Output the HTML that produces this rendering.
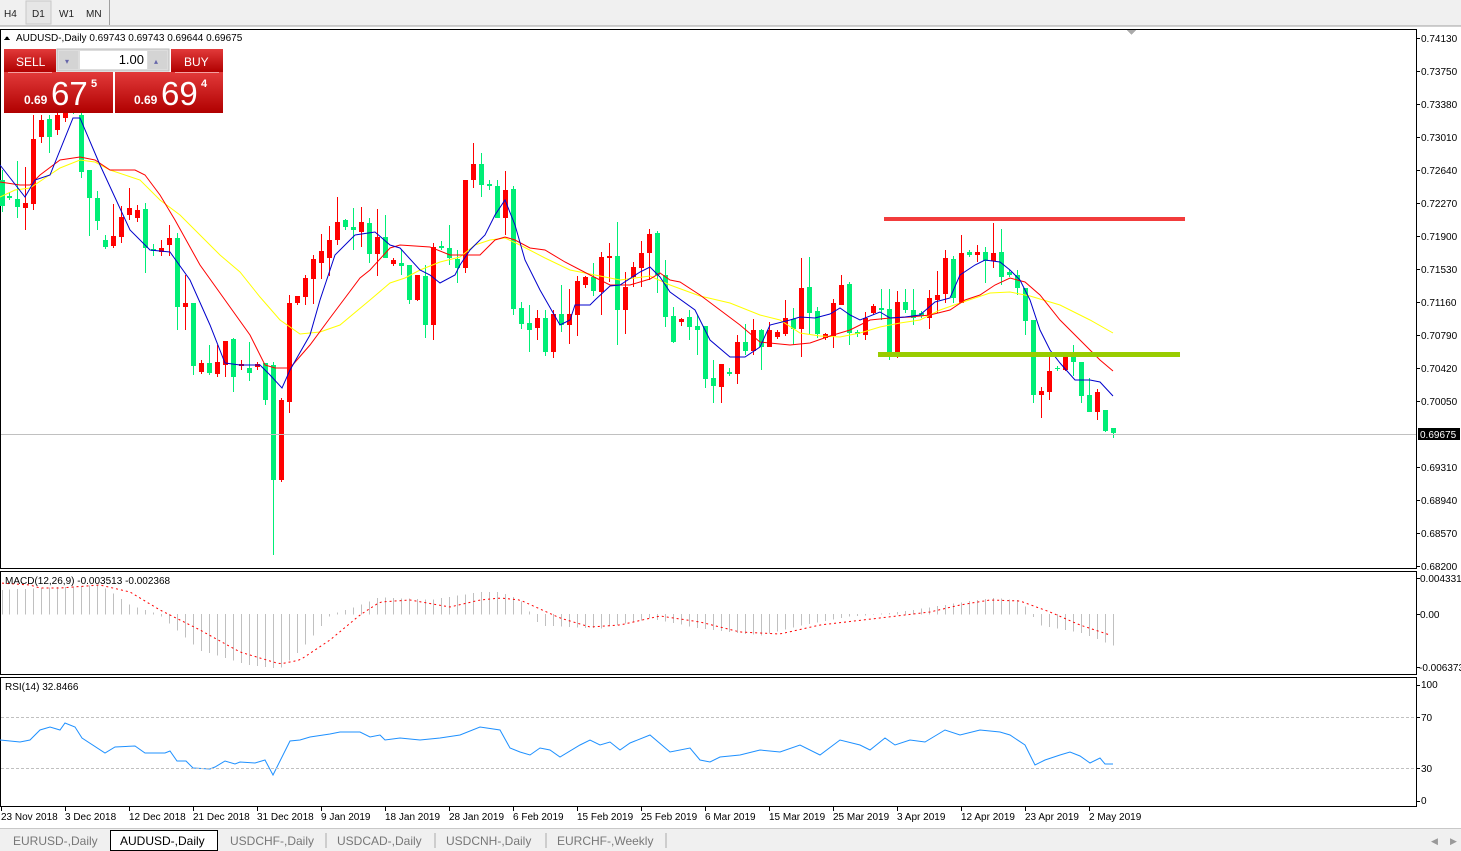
<!DOCTYPE html>
<html><head><meta charset="utf-8">
<style>
html,body{margin:0;padding:0;width:1461px;height:851px;overflow:hidden;background:#fff;font-family:"Liberation Sans",sans-serif;}
svg text{font-family:"Liberation Sans",sans-serif;}
</style></head><body>
<svg id="s" width="1461" height="851" xmlns="http://www.w3.org/2000/svg" shape-rendering="crispEdges">
<rect x="0" y="0" width="1461" height="26" fill="#f0f0f0"/>
<line x1="0" y1="26" x2="1461" y2="26" stroke="#a0a0a0"/>
<rect x="26" y="1" width="25" height="23" fill="#e6e6e6" stroke="#c8c8c8"/>
<text x="4" y="17" font-size="10" fill="#222">H4</text>
<text x="32" y="17" font-size="10" fill="#222">D1</text>
<text x="59" y="17" font-size="10" fill="#222">W1</text>
<text x="86" y="17" font-size="10" fill="#222">MN</text>
<line x1="109.5" y1="0" x2="109.5" y2="25" stroke="#a0a0a0"/>
<!-- panes -->
<rect x="0.5" y="29.5" width="1416" height="539" fill="#fff" stroke="#000"/>
<rect x="0.5" y="571.5" width="1416" height="103" fill="#fff" stroke="#000"/>
<rect x="0.5" y="677.5" width="1416" height="129" fill="#fff" stroke="#000"/>
<polygon points="1127,30 1136,30 1131.5,35" fill="#aaa"/>
<g id="main"></g>
<line x1="1" y1="434.5" x2="1416" y2="434.5" stroke="#c0c0c0"/>
<rect x="884" y="217" width="301" height="4" fill="#f23c3c"/>
<rect x="878" y="352" width="302" height="5" fill="#99cc00"/>
<g id="macd"></g>
<g id="rsi"></g>
<!-- right axis -->
<g font-size="10" fill="#000" id="ax">
<text x="1421" y="42">0.74130</text><text x="1421" y="75">0.73750</text><text x="1421" y="108">0.73380</text>
<text x="1421" y="141">0.73010</text><text x="1421" y="174">0.72640</text><text x="1421" y="207">0.72270</text>
<text x="1421" y="240">0.71900</text><text x="1421" y="273">0.71530</text><text x="1421" y="306">0.71160</text>
<text x="1421" y="339">0.70790</text><text x="1421" y="372">0.70420</text><text x="1421" y="405">0.70050</text>
<text x="1421" y="471">0.69310</text><text x="1421" y="504">0.68940</text><text x="1421" y="537">0.68570</text>
<text x="1421" y="570">0.68200</text>
<text x="1420" y="582">0.004331</text><text x="1420" y="618">0.00</text><text x="1419" y="671">-0.006373</text>
<text x="1421" y="688">100</text><text x="1421" y="721">70</text><text x="1421" y="772">30</text><text x="1421" y="804">0</text>
</g>
<rect x="1418" y="428" width="42" height="12" fill="#000"/>
<text x="1420" y="438" font-size="10" fill="#fff">0.69675</text>
<!-- RSI levels -->
<line x1="1" y1="717.5" x2="1416" y2="717.5" stroke="#c0c0c0" stroke-dasharray="3,2"/>
<line x1="1" y1="768.5" x2="1416" y2="768.5" stroke="#c0c0c0" stroke-dasharray="3,2"/>
<text x="5" y="584" font-size="10">MACD(12,26,9) -0.003513 -0.002368</text>
<text x="5" y="690" font-size="10">RSI(14) 32.8466</text>
<!-- date axis -->
<g font-size="10" fill="#000">
<text x="1" y="820">23 Nov 2018</text><text x="65" y="820">3 Dec 2018</text><text x="129" y="820">12 Dec 2018</text>
<text x="193" y="820">21 Dec 2018</text><text x="257" y="820">31 Dec 2018</text><text x="321" y="820">9 Jan 2019</text>
<text x="385" y="820">18 Jan 2019</text><text x="449" y="820">28 Jan 2019</text><text x="513" y="820">6 Feb 2019</text>
<text x="577" y="820">15 Feb 2019</text><text x="641" y="820">25 Feb 2019</text><text x="705" y="820">6 Mar 2019</text>
<text x="769" y="820">15 Mar 2019</text><text x="833" y="820">25 Mar 2019</text><text x="897" y="820">3 Apr 2019</text>
<text x="961" y="820">12 Apr 2019</text><text x="1025" y="820">23 Apr 2019</text><text x="1089" y="820">2 May 2019</text>
</g>
<g id="ticks"></g>
<!-- tabs -->
<rect x="0" y="828" width="1461" height="23" fill="#f0f0f0"/>
<line x1="0" y1="828.5" x2="1461" y2="828.5" stroke="#c8c8c8"/>
<rect x="110.5" y="830.5" width="107" height="20" fill="#fff" stroke="#000"/>
<g font-size="12" fill="#777">
<text x="13" y="845">EURUSD-,Daily</text>
<text x="120" y="845" fill="#000">AUDUSD-,Daily</text>
<text x="230" y="845">USDCHF-,Daily</text>
<text x="337" y="845">USDCAD-,Daily</text>
<text x="446" y="845">USDCNH-,Daily</text>
<text x="557" y="845">EURCHF-,Weekly</text>
</g>
<g stroke="#aaa"><line x1="326" y1="833" x2="326" y2="848"/><line x1="435" y1="833" x2="435" y2="848"/><line x1="546" y1="833" x2="546" y2="848"/><line x1="666" y1="833" x2="666" y2="848"/></g>
<text x="1431" y="844" font-size="9" fill="#999">◀</text><text x="1450" y="844" font-size="9" fill="#999">▶</text>
<!-- header -->
<polygon points="4,40 10,40 7,36" fill="#000"/>
<text x="16" y="41" font-size="10">AUDUSD-,Daily  0.69743 0.69743 0.69644 0.69675</text>
<!-- trade panel -->
<defs><linearGradient id="rg" x1="0" y1="0" x2="0" y2="1"><stop offset="0" stop-color="#e23a3a"/><stop offset="1" stop-color="#b00000"/></linearGradient></defs>
<rect x="4" y="49" width="52" height="23" fill="url(#rg)"/>
<rect x="171" y="49" width="52" height="23" fill="url(#rg)"/>
<rect x="4" y="72" width="109" height="41" fill="url(#rg)"/>
<rect x="115" y="72" width="108" height="41" fill="url(#rg)"/>
<line x1="8" y1="72.5" x2="52" y2="72.5" stroke="#f4a0a0"/><line x1="175" y1="72.5" x2="219" y2="72.5" stroke="#f4a0a0"/>
<rect x="57" y="49" width="112" height="22" fill="#ddd" stroke="#bbb"/>
<rect x="59" y="51" width="19" height="18" fill="#d4d4d4"/><rect x="148" y="51" width="19" height="18" fill="#d4d4d4"/>
<rect x="80" y="51" width="67" height="18" fill="#fff"/>
<text x="65" y="64" font-size="8" fill="#66a">▾</text><text x="154" y="64" font-size="8" fill="#66a">▴</text>
<text x="144" y="64" font-size="13" text-anchor="end">1.00</text>
<text x="16" y="66" font-size="12" fill="#fff">SELL</text>
<text x="184" y="66" font-size="12" fill="#fff">BUY</text>
<text x="24" y="104" font-size="12" font-weight="bold" fill="#fff">0.69</text>
<text x="51" y="105" font-size="33" fill="#fff">67</text>
<text x="91" y="87" font-size="11" font-weight="bold" fill="#fff">5</text>
<text x="134" y="104" font-size="12" font-weight="bold" fill="#fff">0.69</text>
<text x="161" y="105" font-size="33" fill="#fff">69</text>
<text x="201" y="87" font-size="11" font-weight="bold" fill="#fff">4</text>
</svg>
<script>
var NS="http://www.w3.org/2000/svg";
function el(p,t,a){var e=document.createElementNS(NS,t);for(var k in a)e.setAttribute(k,a[k]);p.appendChild(e);return e;}
var C=[[2,'g',180,206,170,212],[9,'g',196,198,192,200],[17,'g',199,207,161,218],[25,'r',203,208,167,230],[33,'r',139,204,115,210],[41,'r',120,137,115,143],[49,'g',119,137,115,153],[57,'r',115,130,108,135],[65,'r',105,118,100,122],[73,'g',100,110,95,114],[81,'g',115,172,113,178],[89,'g',170,198,170,236],[97,'g',198,221,191,230],[105,'g',240,247,235,249],[113,'r',236,246,204,248],[121,'r',217,237,206,243],[129,'r',208,215,188,220],[137,'r',210,218,205,222],[145,'g',209,248,203,273],[153,'g',249,251,244,256],[161,'r',248,252,240,256],[169,'r',238,245,225,256],[177,'g',238,307,233,330],[185,'r',303,307,275,330],[193,'g',303,366,303,375],[201,'r',363,372,360,374],[209,'g',363,373,345,375],[217,'r',362,374,345,377],[225,'r',341,365,341,377],[233,'g',339,377,338,392],[241,'r',364,366,360,370],[249,'g',368,373,342,381],[257,'r',364,367,362,370],[265,'g',363,400,363,405],[273,'g',365,480,362,555],[281,'r',400,480,398,482],[289,'r',303,402,295,413],[297,'r',296,303,296,305],[305,'r',278,297,275,305],[313,'r',259,279,255,304],[321,'r',251,263,234,279],[329,'r',240,258,226,276],[337,'r',222,240,197,245],[345,'g',220,227,219,230],[353,'g',227,230,208,250],[361,'r',222,232,207,247],[369,'g',223,254,218,263],[377,'r',237,254,209,276],[385,'g',237,258,215,258],[393,'r',260,264,258,266],[401,'g',263,266,250,275],[409,'g',265,300,265,304],[417,'r',275,300,275,301],[425,'g',276,325,265,338],[433,'r',247,325,243,340],[441,'g',246,248,241,250],[449,'g',248,258,225,265],[457,'g',259,268,250,283],[465,'r',180,268,180,273],[473,'r',164,180,143,188],[481,'g',164,185,153,197],[489,'g',184,186,180,190],[497,'g',186,218,180,218],[505,'r',190,218,171,235],[513,'g',189,309,186,315],[521,'g',308,324,302,329],[529,'g',323,330,305,352],[537,'r',318,328,310,340],[545,'g',318,352,310,356],[553,'r',314,352,310,358],[561,'g',314,325,285,332],[569,'r',314,325,289,344],[577,'r',281,315,276,336],[585,'r',277,285,276,288],[593,'g',277,291,263,296],[601,'r',257,292,252,315],[609,'r',256,258,243,282],[617,'g',256,310,222,345],[625,'r',287,310,272,334],[633,'r',267,277,262,287],[641,'r',253,268,241,287],[649,'r',234,253,229,280],[657,'g',233,275,231,293],[665,'g',275,317,260,327],[673,'g',316,342,307,343],[681,'r',319,322,318,326],[689,'g',317,327,310,340],[697,'g',326,330,315,355],[705,'g',326,379,326,388],[713,'g',378,386,360,403],[721,'r',364,387,364,403],[729,'g',372,374,368,376],[737,'r',342,374,335,384],[745,'g',342,351,324,355],[753,'r',330,351,319,355],[761,'g',330,347,329,370],[769,'r',330,347,322,345],[777,'r',332,337,330,339],[785,'r',318,334,300,336],[793,'g',319,329,308,345],[801,'r',288,329,258,357],[809,'g',287,313,257,334],[817,'g',311,334,307,338],[825,'r',334,338,333,340],[833,'r',303,336,299,348],[841,'r',285,305,275,305],[849,'g',284,333,282,345],[857,'g',332,334,330,337],[865,'r',318,335,312,340],[873,'r',306,313,304,315],[881,'g',308,310,289,320],[889,'g',309,355,289,360],[897,'r',302,355,291,358],[905,'g',302,310,289,313],[913,'g',310,318,289,325],[921,'g',313,316,311,318],[929,'r',298,318,290,329],[937,'r',295,300,271,313],[945,'r',258,294,250,303],[953,'g',259,298,256,303],[961,'r',253,303,235,303],[969,'g',252,255,250,257],[977,'r',252,255,245,262],[985,'g',252,261,247,283],[993,'r',253,261,223,268],[1001,'g',252,277,229,285],[1009,'g',272,275,270,277],[1017,'g',275,288,270,295],[1025,'g',288,321,288,335],[1033,'g',320,395,320,403],[1041,'r',391,395,387,418],[1049,'r',371,392,357,400],[1057,'g',368,369,366,371],[1065,'r',355,370,355,371],[1073,'g',356,362,345,376],[1081,'g',362,396,362,403],[1089,'g',395,412,378,412],[1097,'r',392,412,389,420],[1105,'g',410,431,410,432],[1113,'g',428,433,428,438]];
var m=document.getElementById('main');
C.forEach(function(c){var col=c[1]=='r'?'#ff0000':'#00ee76';
el(m,'rect',{x:c[0],y:c[4],width:1,height:c[5]-c[4],fill:col});
el(m,'rect',{x:c[0]-2,y:c[2],width:5,height:Math.max(1,c[3]-c[2]),fill:col});});
function pl(g,pts,col,extra){var s=[];for(var i=0;i<pts.length;i+=2)s.push(pts[i]+','+pts[i+1]);var a={points:s.join(' '),fill:'none',stroke:col,'stroke-width':1,'shape-rendering':'auto'};for(var k in extra)a[k]=extra[k];el(g,'polyline',a);}
pl(m,[0,197,15,190,30,188,45,178,60,168,80,160,95,162,110,170,140,180,160,200,180,215,200,235,220,255,240,272,260,297,280,320,300,334,320,332,340,325,370,300,390,283,405,278,420,270,440,262,460,257,475,245,490,240,505,238,520,245,545,258,570,270,600,276,620,280,650,276,670,285,700,296,730,303,760,315,780,320,800,333,820,336,840,337,860,333,880,327,900,323,920,320,940,310,960,303,975,298,990,293,1010,292,1030,296,1060,305,1090,320,1113,333],'#ffff00');
pl(m,[0,182,20,185,30,185,40,175,60,160,80,157,95,160,110,170,135,170,145,175,160,195,175,220,200,265,225,300,250,335,265,365,275,368,290,368,310,345,330,318,345,298,360,278,370,270,390,248,400,245,430,247,450,255,480,255,495,240,505,237,515,240,530,248,545,250,565,262,590,275,610,285,630,285,650,279,660,273,670,280,680,282,700,295,720,310,740,325,760,342,790,345,810,343,830,336,850,330,870,320,890,318,910,317,930,315,950,310,965,300,980,295,995,285,1010,278,1025,282,1040,295,1060,320,1080,340,1100,360,1113,371],'#ff0000');
pl(m,[0,165,25,197,35,180,50,175,73,118,80,118,100,165,130,230,150,250,170,252,190,280,210,325,225,363,240,365,260,365,270,375,282,388,290,370,310,335,320,300,335,255,355,235,375,232,390,245,400,248,420,270,430,275,440,283,455,275,460,265,470,250,485,235,495,215,505,200,515,225,525,260,540,290,560,325,570,320,575,305,590,305,595,300,610,286,620,285,640,272,650,267,660,277,670,292,695,310,710,340,730,357,745,357,760,347,770,325,790,320,800,317,815,318,830,314,840,308,850,315,860,320,880,312,890,318,905,317,920,315,935,302,950,298,960,275,975,265,985,260,1000,262,1010,270,1020,280,1030,300,1040,330,1050,350,1060,363,1075,380,1090,380,1100,382,1113,396],'#0000cc');
function interp(k,x){for(var i=0;i<k.length-2;i+=2){if(x<=k[i+2]){var t=(x-k[i])/(k[i+2]-k[i]);return k[i+1]+t*(k[i+3]-k[i+1]);}}return k[k.length-1];}
var H=[0,590,100,585,130,605,160,615,200,650,250,665,280,668,300,650,330,615,360,605,380,597,430,600,480,592,500,592,520,600,540,625,600,628,650,618,700,628,760,635,800,625,850,616,900,612,950,604,990,598,1020,600,1040,625,1080,632,1113,645];
var S=[0,583,30,585,40,588,60,588,100,585,130,592,160,610,200,630,240,652,280,664,300,660,330,640,360,615,380,602,410,600,450,607,480,600,500,598,520,600,560,618,590,627,620,625,660,616,700,622,740,632,780,634,820,625,880,618,930,612,960,605,990,600,1020,601,1050,612,1080,625,1113,636];
var mg=document.getElementById('macd');
C.forEach(function(c){var y=interp(H,c[0]);el(mg,'rect',{x:c[0],y:Math.min(y,614),width:1,height:Math.abs(614-y)+0.5,fill:'#c0c0c0'});});
var sp=[];for(var x=2;x<=1113;x+=4)sp.push(x,interp(S,x));
pl(mg,sp,'#ff0000',{'stroke-dasharray':'2,3'});
var R=[0,740,20,742,30,740,40,730,50,727,60,730,65,723,75,727,82,738,105,753,115,747,135,746,145,753,165,753,170,751,177,761,186,761,193,768,210,769,215,767,225,761,235,764,240,762,255,763,265,760,273,775,290,741,300,740,310,737,330,734,340,732,360,732,370,737,380,735,385,740,400,738,420,740,440,738,460,735,480,727,500,730,510,748,520,752,530,755,540,748,550,750,560,757,580,745,590,740,600,745,610,742,620,750,630,743,650,735,670,752,690,748,700,760,710,762,720,757,740,755,760,750,780,752,800,745,820,755,840,740,860,745,870,750,885,738,895,745,910,740,925,742,945,730,960,735,980,730,1000,732,1010,735,1025,745,1035,765,1045,760,1060,755,1070,752,1080,756,1090,763,1100,758,1105,764,1113,764];
pl(document.getElementById('rsi'),R,'#1e90ff');
var tk=document.getElementById('ticks');
for(var i=0;i<18;i++){el(tk,'rect',{x:1+64*i,y:807,width:1,height:4,fill:'#000'});}
var ax=document.getElementById('ax');
[38,71,104,137,170,203,236,269,302,335,368,401,467,500,533,566,578,614,667,685,717,768,801].forEach(function(y){el(ax,'rect',{x:1417,y:y,width:3,height:1,fill:'#000'});});
</script>
</body></html>
